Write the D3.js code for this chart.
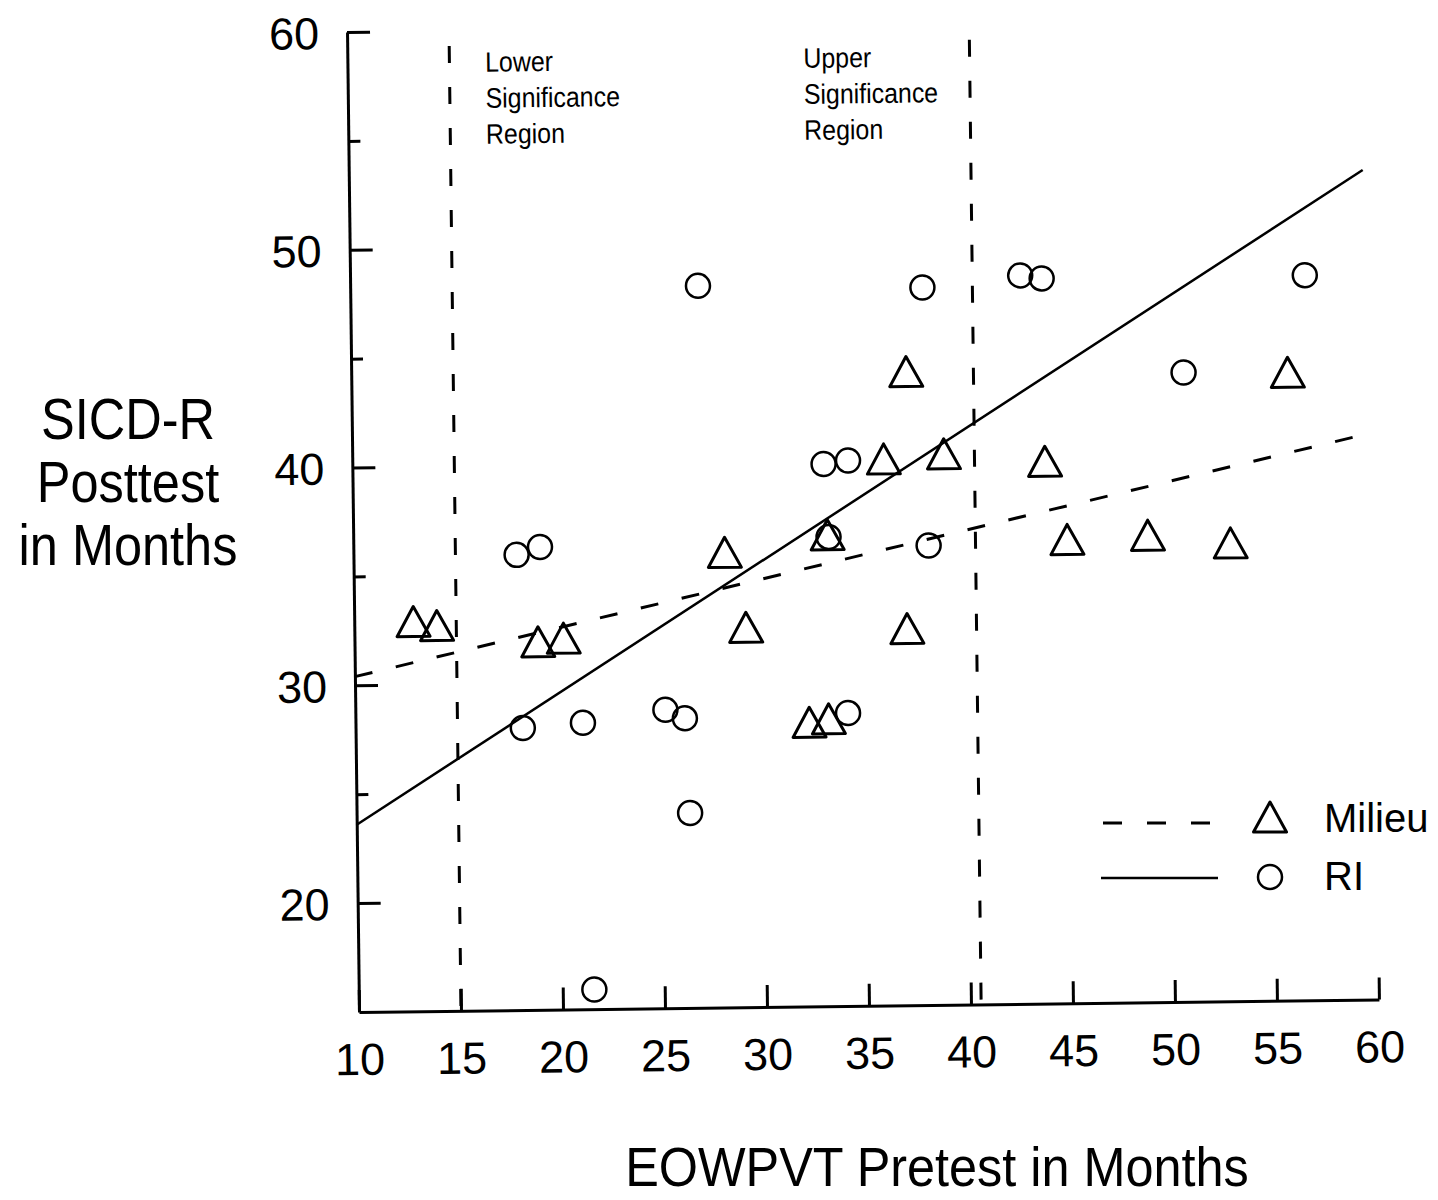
<!DOCTYPE html>
<html>
<head>
<meta charset="utf-8">
<script src="https://cdn.jsdelivr.net/npm/d3@7"></script>
<style>
  html, body { margin: 0; padding: 0; background: #fff; }
  svg { display: block; }
  text { font-family: "Liberation Sans", Arial, Helvetica, sans-serif; fill: #000; }
</style>
</head>
<body>
<svg id="chart" width="1438" height="1200"></svg>
<script>
// tick values
const xTicks = [10, 15, 20, 25, 30, 35, 40, 45, 50, 55, 60];
const yMajorTicks = [20, 30, 40, 50, 60];
const yMinorTicks = [25, 35, 45, 55];

// Milieu group (triangles)
const milieuX = [12.9, 14.05, 19.0, 20.25, 28.2, 29.2, 32.25, 33.2, 33.25, 36.05, 37.2, 37.1, 39.0, 43.95, 45.0, 48.95, 53.0, 55.9];
const milieuY = [32.9, 32.7, 31.9, 32.05, 35.9, 32.45, 28.05, 28.2, 36.65, 40.1, 44.1, 32.3, 40.3, 39.9, 36.3, 36.45, 36.05, 43.85];

// RI group (circles)
const riX = [18.0, 19.15, 18.2, 21.15, 25.2, 26.15, 26.35, 21.55, 27.05, 33.1, 34.3, 33.3, 34.15, 38.05, 38.2, 42.85, 43.9, 50.8, 56.8];
const riY = [35.9, 36.25, 27.95, 28.15, 28.7, 28.3, 23.95, 15.9, 48.15, 39.9, 40.05, 36.55, 28.45, 47.95, 36.1, 48.45, 48.3, 43.9, 48.3];

// regression lines (end points)
const milieuFitX = [10, 59.4];
const milieuFitY = [30.4, 40.9];
const riFitX = [10, 59.7];
const riFitY = [23.6, 53.1];

// significance region boundaries
const regionBounds = [15, 40.5];
const regionTop = 59.3;
const regionLabels = [
  ['Lower', 'Significance', 'Region'],
  ['Upper', 'Significance', 'Region']
];
const regionLabelX = [16.75, 32.35];

const legendLabels = ['Milieu', 'RI'];
const yTitle = ['SICD-R', 'Posttest', 'in Months'];
const xTitle = 'EOWPVT Pretest in Months';

const svg = d3.select('#chart');

const x = d3.scaleLinear().domain([10, 60]).range([359, 1379]);
const y = d3.scaleLinear().domain([15, 60]).range([1012, 32]);

// the scanned page is slightly turned
const plot = svg.append('g').attr('transform', 'rotate(-0.7, 358, 1012)');

function condensed(parent, px, py, str, size, sx, anchor) {
  parent
    .append('text')
    .attr('transform', `translate(${px},${py}) scale(${sx},1)`)
    .attr('font-size', size)
    .attr('text-anchor', anchor)
    .text(str);
}

// significance boundaries
plot
  .selectAll('line.region')
  .data(regionBounds)
  .join('line')
  .attr('class', 'region')
  .attr('x1', (d) => x(d))
  .attr('x2', (d) => x(d))
  .attr('y1', y(regionTop))
  .attr('y2', y(15))
  .attr('stroke', '#000')
  .attr('stroke-width', 3)
  .attr('stroke-dasharray', '17 24');

regionLabels.forEach((lines, i) => {
  lines.forEach((str, j) => {
    condensed(plot, x(regionLabelX[i]), y(58.1) + j * 36, str, 28, 0.89, 'start');
  });
});

// axes
const gx = plot
  .append('g')
  .attr('transform', `translate(0,${y(15)})`)
  .call(d3.axisBottom(x).tickValues(xTicks).tickSize(-22).tickSizeOuter(0).tickPadding(31));

const gy = plot
  .append('g')
  .attr('transform', `translate(${x(10)},0)`)
  .call(d3.axisLeft(y).tickValues(yMajorTicks).tickSize(-23).tickSizeOuter(0).tickPadding(28));

const gyMinor = plot
  .append('g')
  .attr('transform', `translate(${x(10)},0)`)
  .call(d3.axisLeft(y).tickValues(yMinorTicks).tickSize(-12).tickFormat(''));
gyMinor.select('.domain').remove();

[gx, gy, gyMinor].forEach((g) => {
  g.selectAll('path, line').attr('stroke', '#000').attr('stroke-width', 3);
  g.selectAll('text').attr('font-size', 45).attr('fill', '#000');
});
gy.selectAll('text').attr('dy', '0.36em');

// regression lines
const line = d3
  .line()
  .x((d) => x(d[0]))
  .y((d) => y(d[1]));

plot
  .append('path')
  .datum(d3.zip(milieuFitX, milieuFitY))
  .attr('fill', 'none')
  .attr('stroke', '#000')
  .attr('stroke-width', 3)
  .attr('stroke-dasharray', '18 24')
  .attr('d', line);

plot
  .append('path')
  .datum(d3.zip(riFitX, riFitY))
  .attr('fill', 'none')
  .attr('stroke', '#000')
  .attr('stroke-width', 2.5)
  .attr('d', line);

// markers
const triangle = 'M0,-15L16.5,15L-16.5,15Z';

plot
  .selectAll('path.milieu')
  .data(d3.zip(milieuX, milieuY))
  .join('path')
  .attr('class', 'milieu')
  .attr('d', triangle)
  .attr('transform', (d) => `translate(${x(d[0])},${y(d[1])})`)
  .attr('fill', 'none')
  .attr('stroke', '#000')
  .attr('stroke-width', 3)
  .attr('stroke-linejoin', 'round');

plot
  .selectAll('circle.ri')
  .data(d3.zip(riX, riY))
  .join('circle')
  .attr('class', 'ri')
  .attr('cx', (d) => x(d[0]))
  .attr('cy', (d) => y(d[1]))
  .attr('r', 12)
  .attr('fill', 'none')
  .attr('stroke', '#000')
  .attr('stroke-width', 2.5);

// legend
const legend = svg.append('g');
legend
  .append('line')
  .attr('x1', 1103)
  .attr('x2', 1212)
  .attr('y1', 823)
  .attr('y2', 823)
  .attr('stroke', '#000')
  .attr('stroke-width', 3)
  .attr('stroke-dasharray', '19 25');
legend
  .append('path')
  .attr('d', triangle)
  .attr('transform', 'translate(1270,817)')
  .attr('fill', 'none')
  .attr('stroke', '#000')
  .attr('stroke-width', 3)
  .attr('stroke-linejoin', 'round');
legend
  .append('line')
  .attr('x1', 1101)
  .attr('x2', 1218)
  .attr('y1', 878)
  .attr('y2', 878)
  .attr('stroke', '#000')
  .attr('stroke-width', 2.5);
legend
  .append('circle')
  .attr('cx', 1270)
  .attr('cy', 877)
  .attr('r', 12)
  .attr('fill', 'none')
  .attr('stroke', '#000')
  .attr('stroke-width', 2.5);
legend
  .selectAll('text')
  .data(legendLabels)
  .join('text')
  .attr('x', 1324)
  .attr('y', (_, i) => 832 + i * 58)
  .attr('font-size', 40)
  .text((d) => d);

// axis titles
yTitle.forEach((str, i) => {
  condensed(svg, 128, 439 + i * 63, str, 58, 0.87, 'middle');
});
condensed(svg, 937, 1186, xTitle, 56, 0.9, 'middle');
</script>
</body>
</html>
